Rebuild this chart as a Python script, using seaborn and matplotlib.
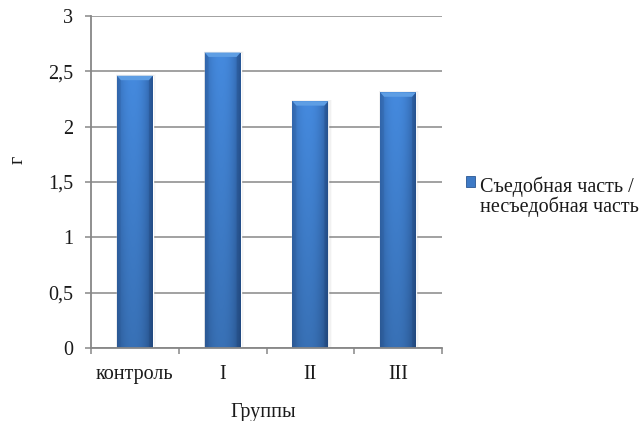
import numpy as np
import pandas as pd
import matplotlib
matplotlib.use("Agg")
import matplotlib.pyplot as plt
from matplotlib.patches import Patch, Polygon
from matplotlib.ticker import FixedLocator
import seaborn as sns

# Data
groups = ["контроль", "I", "II", "III"]
ratio = [2.46, 2.67, 2.23, 2.31]
series_name = "Съедобная часть /\nнесъедобная часть"
y_ticks = [0, 0.5, 1, 1.5, 2, 2.5, 3]
y_tick_labels = ["0", "0,5", "1", "1,5", "2", "2,5", "3"]

sns.set_theme(style="white")
plt.rcParams["font.family"] = ["Liberation Serif", "DejaVu Serif"]
FS = 14.5
text_color = "#1a1a1a"
W_PX, H_PX = 642, 421

df = pd.DataFrame({"Группы": groups, "value": ratio})

fig = plt.figure(figsize=(W_PX / 100, H_PX / 100), dpi=100)
ax = fig.add_axes([91 / W_PX, (H_PX - 348) / H_PX, 351 / W_PX, 332 / H_PX])

base_color = "#3A73BF"
sns.barplot(data=df, x="Группы", y="value", color=base_color, width=0.41,
            saturation=1, ax=ax, zorder=3)

ax.set_ylim(0, 3)
ax.set_xlim(-0.5, len(groups) - 0.5)

# Cylinder-like shading for each bar: dark edges, lighter middle, darker bottom
nx, ny = 64, 64
u = np.linspace(0, 1, nx)
v = np.linspace(0, 1, ny)
edge = np.clip(np.abs(u - 0.45) / 0.55, 0, 1) ** 2.2
light = np.array([0.27, 0.54, 0.87])
dark = np.array([0.17, 0.36, 0.62])
rows = []
for t in v:  # t=0 bottom, t=1 top
    vert = 0.82 + 0.18 * t
    row = (light[None, :] * (1 - edge[:, None]) + dark[None, :] * edge[:, None]) * vert
    rows.append(row)
grad = np.clip(np.array(rows), 0, 1)

for p in list(ax.patches):
    x0, y0 = p.get_x(), p.get_y()
    w, h = p.get_width(), p.get_height()
    # soft shadow
    for k, a in enumerate([0.10, 0.07, 0.04]):
        dx = w * 0.03 * (k + 1)
        ax.add_patch(plt.Rectangle((x0 - dx * 0.3, y0), w + dx * 1.3, h + 0.004 * (k + 1),
                                   facecolor="#808080", alpha=a, lw=0, zorder=2))
    im = ax.imshow(grad, extent=[x0, x0 + w, y0, y0 + h], origin="lower",
                   aspect="auto", zorder=4, interpolation="bilinear")
    im.set_clip_path(p)
    # bevelled top
    bh = 0.04
    bw = w * 0.11
    top = y0 + h
    ax.add_patch(Polygon([[x0, top], [x0 + w, top], [x0 + w - bw, top - bh], [x0 + bw, top - bh]],
                         closed=True, facecolor="#5E9EE4", edgecolor="none", zorder=5))
    ax.add_patch(Polygon([[x0, top], [x0 + bw, top - bh], [x0 + bw, y0], [x0, y0]],
                         closed=True, facecolor="#2B5793", alpha=0.25, edgecolor="none", zorder=5))
    ax.add_patch(Polygon([[x0 + w, top], [x0 + w - bw, top - bh], [x0 + w - bw, y0], [x0 + w, y0]],
                         closed=True, facecolor="#1F4275", alpha=0.3, edgecolor="none", zorder=5))

ax.set_xlim(-0.5, len(groups) - 0.5)
ax.set_ylim(0, 3)

# Grid and axes styling
grid_color = "#878787"
ax.set_yticks(y_ticks)
ax.set_yticklabels(y_tick_labels)
ax.yaxis.grid(True, color=grid_color, linewidth=1.1, zorder=0)
ax.set_axisbelow(True)
for s in ["top", "right"]:
    ax.spines[s].set_visible(False)
for s in ["left", "bottom"]:
    ax.spines[s].set_color(grid_color)
    ax.spines[s].set_linewidth(1.3)
    ax.spines[s].set_zorder(6)

ax.tick_params(axis="y", direction="out", length=4.3, width=1.1, color=grid_color,
               labelsize=FS, pad=8.5, left=True)
ax.xaxis.set_minor_locator(FixedLocator(np.arange(-0.5, len(groups), 1.0)))
ax.tick_params(axis="x", which="major", length=0, labelsize=FS, pad=12)
ax.tick_params(axis="x", which="minor", direction="out", length=4.3, width=1.1,
               color=grid_color, bottom=True)
for lab in ax.get_xticklabels() + ax.get_yticklabels():
    lab.set_color(text_color)

ax.set_xlabel("Группы", fontsize=FS, color=text_color)
ax.xaxis.set_label_coords(0.49, -0.165)
ax.set_ylabel("г", fontsize=FS, color=text_color)
ax.yaxis.set_label_coords(-0.18, 0.567)

handle = Patch(facecolor="#3E7AC6", edgecolor="#2B5793", linewidth=0.6)
leg = fig.legend([handle], [series_name], loc="upper left",
                 bbox_to_anchor=(0.724, 0.596), frameon=False, fontsize=FS,
                 handlelength=0.45, handleheight=0.45, handletextpad=0.25,
                 borderaxespad=0, borderpad=0)
for t in leg.get_texts():
    t.set_linespacing(1.0)
    t.set_color(text_color)
# keep the marker level with the first line of the label
for row in leg._legend_handle_box.get_children():
    for hp in row.get_children():
        hp.align = "top"

# place the legend so that its marker sits at the chosen spot (pixels from top-left)
fig.canvas.draw()
renderer = fig.canvas.get_renderer()
hb = leg.legend_handles[0].get_window_extent(renderer)
target_left, target_top = 466, H_PX - 176
dx = (target_left - hb.x0) / W_PX
dy = (target_top - hb.y1) / H_PX
leg.set_bbox_to_anchor((0.724 + dx, 0.596 + dy), transform=fig.transFigure)

fig.savefig("out.png", dpi=100)
